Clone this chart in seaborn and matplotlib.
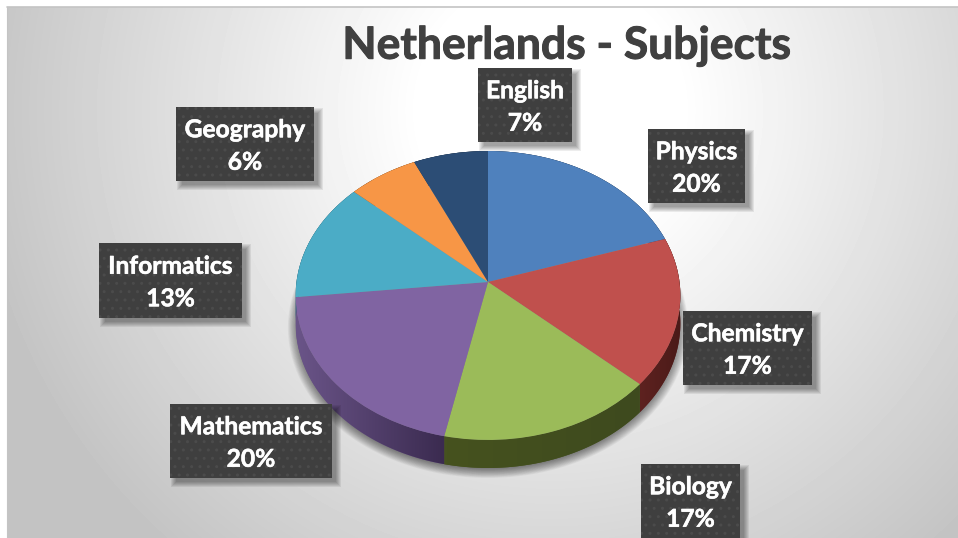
import numpy as np
import seaborn as sns
import matplotlib.pyplot as plt
import matplotlib.patheffects as pe
from matplotlib.patches import Polygon, Rectangle
from matplotlib.transforms import Transform

subjects = ['Physics', 'Chemistry', 'Biology', 'Mathematics', 'Informatics', 'Geography', 'English']
hours = [60, 50, 50, 60, 40, 19.4, 20.6]
top_colors = ['#4f81bd', '#c0504d', '#9bbb59', '#8064a2', '#4bacc6', '#f79646', '#2c4d75']
wall_left = ['#2b4566', '#5e2220', '#46521f', '#6a5488', '#2b6b7c', '#8a5020', '#1a2e46']
wall_right = ['#2b4566', '#4a1a18', '#3e4a1e', '#3b2b50', '#2b6b7c', '#8a5020', '#1a2e46']
title = 'Netherlands - Subjects'

# label box left, top, right, bottom in pixels
boxes = {'English': (478, 68, 572, 142), 'Physics': (648, 129, 745, 203),
         'Chemistry': (683, 311, 812, 385), 'Biology': (641, 464, 740, 538),
         'Mathematics': (170, 404, 332, 478), 'Informatics': (99, 243, 242, 318),
         'Geography': (176, 107, 314, 181)}

W, H = 958, 538
CX, CY = 488, 282
DEPTH = 28


class Tilt(Transform):
    # pie seen in perspective, so the centre sits above the middle of the ellipse
    input_dims = output_dims = 2

    def __init__(self, shift=0):
        super().__init__()
        self.shift = shift

    def transform_non_affine(self, xy):
        xy = np.asarray(xy)
        d = 1 + 0.0934 * xy[:, 1]
        return np.column_stack([CX + 191.5 * xy[:, 0] / d, CY + self.shift - 143.2 * xy[:, 1] / d])


sns.set_theme(style='white')
plt.rcParams['font.family'] = ['Lato', 'DejaVu Sans']

fig = plt.figure(figsize=(W / 100, H / 100), dpi=100, facecolor='white')
ax = fig.add_axes([0, 0, 1, 1])

# slide background
yy, xx = np.mgrid[7:H, 7:W]
dist = np.hypot(xx - 550, yy - 110)
shade = np.clip(1.0 - 0.135 * np.clip(dist - 130, 0, None) / 260, 0.765, 1)
ax.imshow(shade, cmap='gray', vmin=0, vmax=1, extent=(7, W, H, 7), zorder=0, aspect='auto')
ax.plot([7, W], [6.5, 6.5], color='#c4c4c4', lw=1.2, zorder=1)
ax.plot([7, 7], [6.5, H], color='#c4c4c4', lw=0.8, zorder=1)

wedges, _ = ax.pie(hours, colors=sns.color_palette(top_colors), startangle=90, counterclock=False, radius=1,
                   wedgeprops=dict(linewidth=0, zorder=6))
ax.set_aspect('auto')
ax.axis('off')

# soft shadow under the pie
t = np.linspace(0, 2 * np.pi, 240)
circle = np.column_stack([np.cos(t), np.sin(t)])
for i in range(14):
    pts = Tilt(DEPTH + 3).transform_non_affine(circle * (1.04 - i * 0.004))
    ax.add_patch(Polygon(pts, closed=True, fc='black', ec='none', alpha=0.04, zorder=2))

# side wall, one gradient per slice
for w, c0, c1 in zip(wedges, wall_left, wall_right):
    w.set_transform(Tilt() + ax.transData)
    a = np.radians(np.linspace(w.theta1, w.theta2, 80))
    rim = np.column_stack([np.cos(a), np.sin(a)])
    top = Tilt().transform_non_affine(rim)
    low = Tilt(DEPTH).transform_non_affine(rim)
    poly = Polygon(np.vstack([top, low[::-1]]), closed=True, fc=c0, ec='none', zorder=4)
    ax.add_patch(poly)
    x0, x1 = top[:, 0].min(), top[:, 0].max()
    y0, y1 = top[:, 1].min(), low[:, 1].max()
    cmap = sns.blend_palette([c0, c1], as_cmap=True)
    im = ax.imshow(np.linspace(0, 1, 64).reshape(1, -1), cmap=cmap, extent=(x0, x1, y1, y0), aspect='auto', zorder=5)
    im.set_clip_path(poly)
ax.set_xlim(0, W)
ax.set_ylim(H, 0)

ax.text(567, 46, title, ha='center', va='center', fontsize=32, fontweight='bold', color='#404040', zorder=9,
        path_effects=[pe.withStroke(linewidth=0.7, foreground='#404040')])

total = sum(hours)
for name, h in zip(subjects, hours):
    l, t_, r, b = boxes[name]
    for i in range(6):
        ax.add_patch(Rectangle((l + 6 - i, t_ + 6 - i), r - l + 2 * i - 2, b - t_ + 2 * i - 2, fc='black', ec='none', alpha=0.07, zorder=7))
    ax.add_patch(Rectangle((l, t_), r - l, b - t_, fc='#3f3f3f', ec='#4b4b4b', lw=0, hatch='..', zorder=8))
    ax.text((l + r) / 2, (t_ + b) / 2 + 2, f'{name}\n{round(h / total * 100)}%', ha='center', va='center', color='white',
            fontsize=17.7, fontweight='bold', linespacing=1.5, zorder=9,
            path_effects=[pe.withStroke(linewidth=0.4, foreground='white')])

fig.savefig('out.png', dpi=100)
